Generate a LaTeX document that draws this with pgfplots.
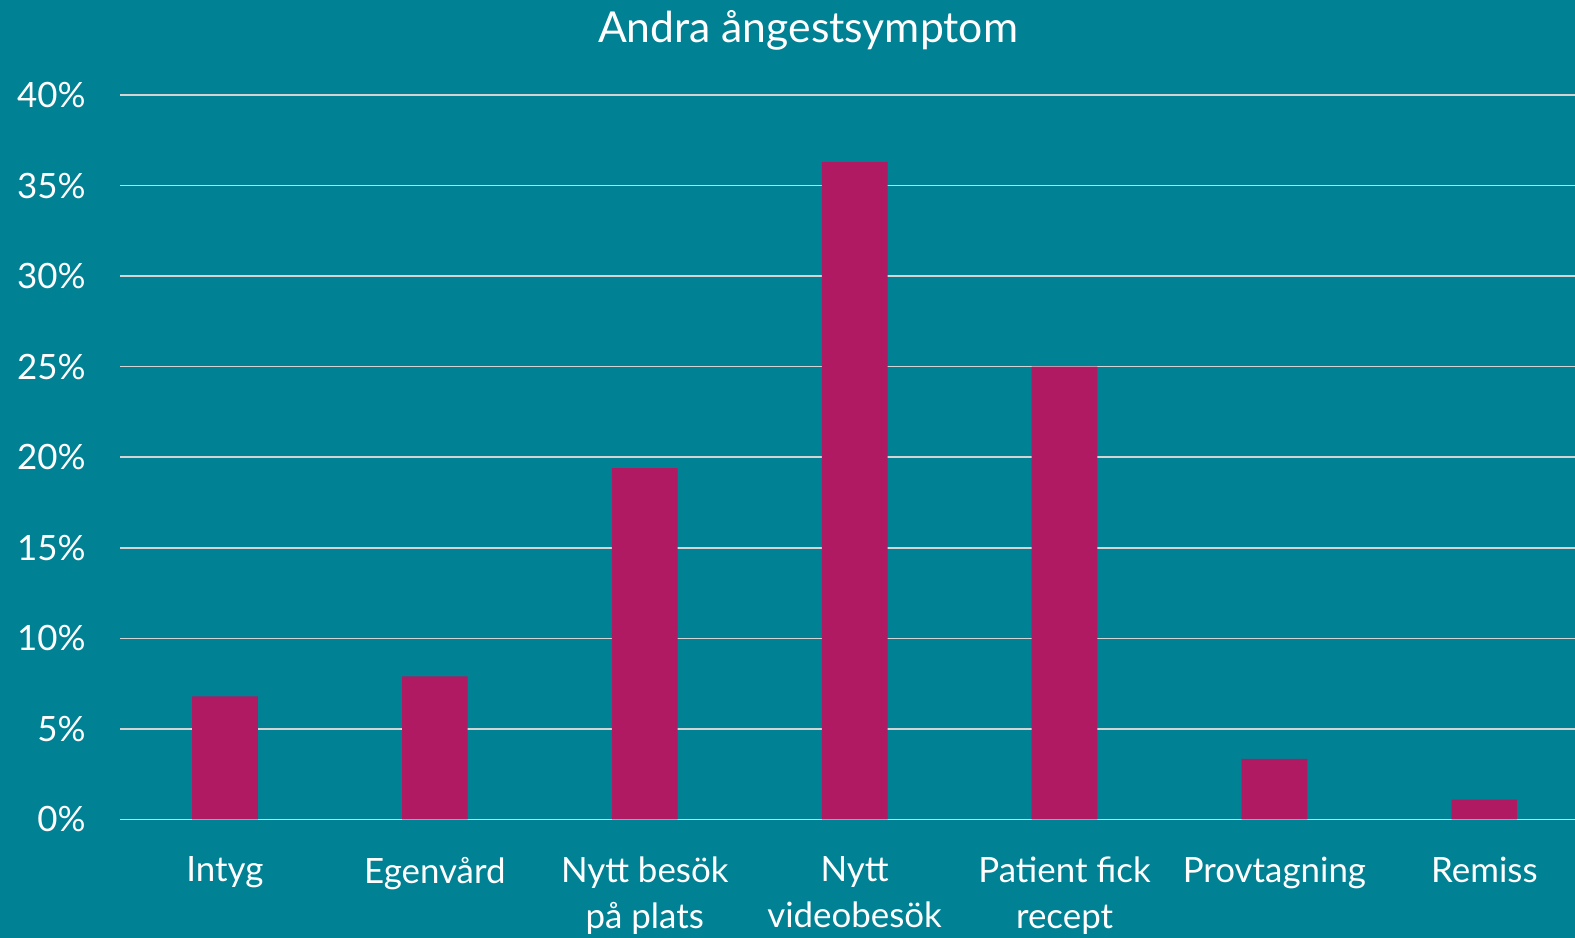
\documentclass[border=0pt]{standalone}
\usepackage{pgfplots}
\pgfplotsset{compat=1.18}
\usepackage{fontspec}
\setmainfont{Lato}
\definecolor{bg}{HTML}{008194}
\definecolor{barc}{HTML}{B01A62}
\definecolor{gridc}{HTML}{D4D4D4}
\begin{document}
\begin{tikzpicture}[x=1bp,y=1bp]
\fill[bg] (-60,-59.25) rectangle (727.5,409.75);
\begin{axis}[
  at={(0,0)}, anchor=south west,
  scale only axis,
  width=734.65bp, height=362.25bp,
  xmin=-0.5, xmax=6.5,
  ymin=0, ymax=40,
  ytick={0,5,...,40},
  xtick={0,...,6},
  xticklabels={Intyg,Egenvård,Nytt besök\\på plats,Nytt\\videobesök,Patient fick\\recept,Provtagning,Remiss},
  axis line style={draw=none},
  major tick length=0pt,
  ymajorgrids,
  grid style={gridc, line width=0.8bp},
  /pgf/number format/assume math mode=true,
  yticklabel={\pgfmathprintnumber{\tick}\%},
  tick label style={text=white, font=\fontsize{17.5}{23}\selectfont, inner sep=0pt},
  yticklabel style={anchor=east, xshift=-17bp},
  xticklabel style={anchor=north, yshift=-18.5bp, align=center},
  ybar, bar width=32.85bp, bar shift=0pt,
  clip=false,
]
\addplot[fill=barc, draw=none] coordinates {(0,6.8) (1,7.9) (2,19.4) (3,36.3) (4,25.0) (5,3.35) (6,1.1)};
\end{axis}
\node[text=white, font=\fontsize{21.4}{25}\selectfont, inner sep=0pt] at (344,394.5) {Andra ångestsymptom};
\pgfresetboundingbox
\path[use as bounding box] (-60,-59.25) rectangle (727.5,409.75);
\end{tikzpicture}
\end{document}
